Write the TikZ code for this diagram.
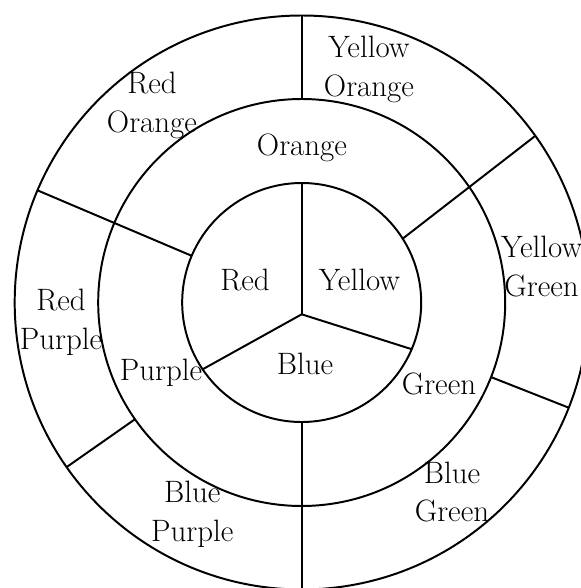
\documentclass[tikz,border=0pt]{standalone}
\begin{document}
\begin{tikzpicture}[x=0.025cm,y=0.025cm,line width=1.4pt,
  lbl/.style={font=\fontsize{22}{27.5}\selectfont,align=center,inner sep=0pt}]
\clip (-301.7,302.5) rectangle (279.3,-285.5);
\coordinate (c) at (0,0);
\coordinate (hub) at (0,-11.8);
\draw (c) circle (119.5);
\draw (c) circle (203.5);
\draw (c) circle (287);
% spokes of the inner circle
\draw (hub) -- (90:119.5);
\draw (hub) -- (-23:119.5);
\draw (hub) -- (214:119.5);
% spokes of the two rings
\draw (157:119.5) -- (157:287);
\draw (32.3:119.5) -- (35.5:287);
\draw (270:119.5) -- (270:300);
\draw (90:203.5) -- (90:287);
\draw (215:203.5) -- (215:287);
\draw (-21.5:203.5) -- (-21.5:287);
% labels
\node[lbl] (red) at (-56.7,22.5) {Red};
\node[lbl] (yellow) at (57.8,22.5) {Yellow};
\node[lbl] (blue) at (3.3,-61.5) {Blue};
\node[lbl] (orange) at (0.3,155) {Orange};
\node[lbl] (purple) at (-140.7,-70) {Purple};
\node[lbl] (green) at (137.3,-81) {Green};
\node[lbl] (yorange) at (67.3,233) {Yellow\\Orange};
\node[lbl] (rorange) at (-149.7,197) {Red\\Orange};
\node[lbl] (ygreen) at (239.9,36) {Yellow\\Green};
\node[lbl] (rpurple) at (-240.7,-19.5) {Red\\Purple};
\node[lbl] (bpurple) at (-109.4,-212) {Blue\\Purple};
\node[lbl] (bgreen) at (150.3,-189.5) {Blue\\Green};
\end{tikzpicture}
\end{document}
